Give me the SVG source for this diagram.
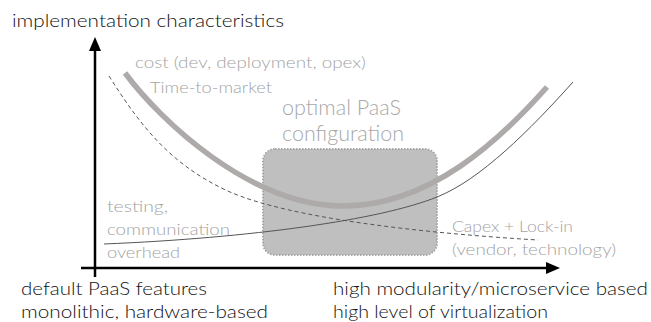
<svg xmlns="http://www.w3.org/2000/svg" width="651" height="322" viewBox="0 0 651 322">
<style>
text{font-family:Lato,"Open Sans","Liberation Sans",sans-serif;font-weight:300}
.blk{fill:#111;font-size:18px}
.gry{fill:#a3a3a3;font-size:16.5px}
.big{fill:#a8a8a8;font-size:21px}
.axis{stroke:#000;stroke-width:2.5;fill:none}
.cost{stroke:#aeaaaa;stroke-width:5.5;fill:none;stroke-linecap:butt}
.thin{stroke:#555;stroke-width:1;fill:none}
.dash{stroke:#555;stroke-width:1;fill:none;stroke-dasharray:4 3}
.opt{fill:#bfbfbf;stroke:#a6a6a6;stroke-width:2;stroke-dasharray:1.5 1.5}
</style>
<rect width="651" height="322" fill="#fff"/>
<g id="optimal-config">
<rect class="opt" x="263" y="149" width="174" height="106" rx="12"/>
<text class="big" x="282" y="115" textLength="119" lengthAdjust="spacingAndGlyphs">optimal PaaS</text>
<text class="big" x="282" y="141" textLength="122" lengthAdjust="spacingAndGlyphs">configuration</text>
</g>
<g id="connectors">
<path class="dash" d="M109,76 C140,125 170,165 230,192 C290,218 420,233 538,240"/>
<path class="thin" d="M104,244 C250,238 380,220 437,197 C480,180 530,130 573,82"/>
<path class="cost" d="M125,73 C160,120 250,206 343,206 C430,206 500,140 547,87"/>
<line class="axis" x1="95" y1="277" x2="95" y2="50"/>
<polygon points="95,37 89,51 101,51" fill="#000"/>
<line class="axis" x1="81" y1="268" x2="548" y2="268"/>
<polygon points="560,268 546,262 546,274" fill="#000"/>
</g>
<g id="y-axis-label">
<text class="blk" x="12" y="27" textLength="272" lengthAdjust="spacingAndGlyphs">implementation characteristics</text>
</g>
<g id="cost-label">
<text class="gry" x="135" y="68" textLength="231" lengthAdjust="spacingAndGlyphs">cost (dev, deployment, opex)</text>
<text class="gry" x="150" y="93" textLength="122" lengthAdjust="spacingAndGlyphs">Time-to-market</text>
</g>
<g id="overhead-label">
<text class="gry" x="107" y="212" textLength="61" lengthAdjust="spacingAndGlyphs">testing,</text>
<text class="gry" x="107" y="235" textLength="123" lengthAdjust="spacingAndGlyphs">communication</text>
<text class="gry" x="107" y="258" textLength="73" lengthAdjust="spacingAndGlyphs">overhead</text>
</g>
<g id="capex-label">
<text class="gry" x="452" y="232" textLength="121" lengthAdjust="spacingAndGlyphs">Capex + Lock-in</text>
<text class="gry" x="452" y="255" textLength="164" lengthAdjust="spacingAndGlyphs">(vendor, technology)</text>
</g>
<g id="x-axis-left-label">
<text class="blk" x="21" y="295" textLength="186" lengthAdjust="spacingAndGlyphs">default PaaS features</text>
<text class="blk" x="21" y="318" textLength="247" lengthAdjust="spacingAndGlyphs">monolithic, hardware-based</text>
</g>
<g id="x-axis-right-label">
<text class="blk" x="333" y="295" textLength="315" lengthAdjust="spacingAndGlyphs">high modularity/microservice based</text>
<text class="blk" x="333" y="318" textLength="215" lengthAdjust="spacingAndGlyphs">high level of virtualization</text>
</g>
</svg>
